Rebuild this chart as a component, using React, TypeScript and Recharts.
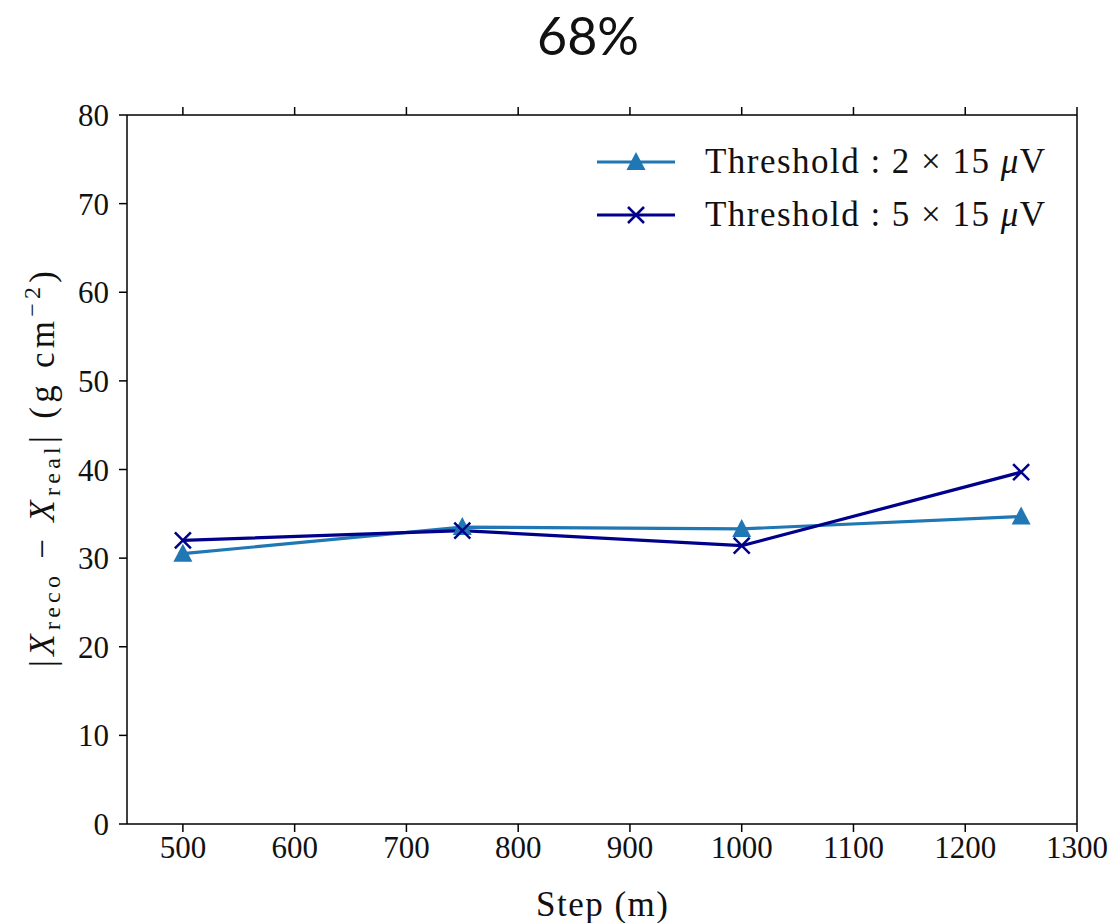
import { LineChart, Line, XAxis, YAxis } from 'recharts'

const steps = [500, 750, 1000, 1250]
const threshold2 = [30.5, 33.5, 33.3, 34.7]
const threshold5 = [32.0, 33.1, 31.4, 39.7]
const xTicks = [500, 600, 700, 800, 900, 1000, 1100, 1200, 1300]
const yTicks = [0, 10, 20, 30, 40, 50, 60, 70, 80]
const seriesNames = ['2', '5']

const data = steps.map((step, i) => ({ step, t2: threshold2[i], t5: threshold5[i] }))

const C1 = '#1f77b4'
const C2 = '#00008b'
const serif = 'Liberation Serif, DejaVu Serif, serif'

const Triangle = ({ cx, cy }: any) => {
  if (cx == null || cy == null) return null
  return <path d={`M${cx},${cy - 10} L${cx + 9.5},${cy + 8} L${cx - 9.5},${cy + 8} Z`} fill={C1} />
}

const Cross = ({ cx, cy }: any) => {
  if (cx == null || cy == null) return null
  const s = 8
  return (
    <path
      d={`M${cx - s},${cy - s} L${cx + s},${cy + s} M${cx - s},${cy + s} L${cx + s},${cy - s}`}
      stroke={C2}
      strokeWidth={2.5}
      fill="none"
    />
  )
}

const EmptyTick = () => <g />

// legend drawn on its own so it does not shrink the plot area
const LegendBox = () => (
  <svg width={480} height={110} style={{ position: 'absolute', left: 597, top: 135 }}>
    {seriesNames.map((n, i) => {
      const y = 27 + i * 53
      const color = i === 0 ? C1 : C2
      return (
        <g key={i}>
          <line x1={0} x2={78} y1={y} y2={y} stroke={color} strokeWidth={3} />
          {i === 0 ? <Triangle cx={39} cy={y} /> : <Cross cx={39} cy={y} />}
          <text x={108} y={y + 11} fontFamily={serif} fontSize={35} fill="#111" textLength={340} lengthAdjust="spacing">
            Threshold : {n} × 15 <tspan fontStyle="italic">μ</tspan>V
          </text>
        </g>
      )
    })}
  </svg>
)

const YLabel = () => (
  <text
    transform="translate(54,469) rotate(-90)"
    textAnchor="middle"
    fontFamily={serif}
    fontSize={35}
    fill="#111"
    textLength={396}
    lengthAdjust="spacing"
  >
    <tspan>|</tspan>
    <tspan fontStyle="italic">X</tspan>
    <tspan fontSize={24} dy={6}>reco</tspan>
    <tspan dy={-6}> − </tspan>
    <tspan fontStyle="italic">X</tspan>
    <tspan fontSize={24} dy={6}>real</tspan>
    <tspan dy={-6}>| (g cm</tspan>
    <tspan fontSize={24} dy={-14}>−2</tspan>
    <tspan dy={14}>)</tspan>
  </text>
)

const XLabel = () => (
  <text x={602} y={916} textAnchor="middle" fontFamily={serif} fontSize={35} fill="#111" textLength={132} lengthAdjust="spacing">
    Step (m)
  </text>
)

export default function App() {
  return (
    <div style={{ position: 'absolute', left: 0, top: 0, width: 1115, height: 923, background: '#fff' }}>
      <div
        style={{
          position: 'absolute',
          left: 0,
          width: 1176,
          top: 4,
          textAlign: 'center',
          fontFamily: 'Lato, "Noto Sans", sans-serif',
          fontSize: 52,
          color: '#111'
        }}
      >
        68%
      </div>
      <LineChart width={1115} height={923} data={data} margin={{ top: 105, right: 28, bottom: 29, left: 47 }}>
        <XAxis
          xAxisId="bottom"
          dataKey="step"
          type="number"
          domain={[450, 1300]}
          ticks={xTicks}
          height={70}
          tickSize={8}
          tickMargin={4}
          stroke="#000"
          strokeWidth={1.5}
          tick={{ fontFamily: serif, fontSize: 31, fill: '#111' }}
          label={<XLabel />}
        />
        <XAxis
          xAxisId="top"
          orientation="top"
          dataKey="step"
          type="number"
          domain={[450, 1300]}
          ticks={xTicks}
          height={10}
          tickSize={8}
          stroke="#000"
          strokeWidth={1.5}
          tick={<EmptyTick />}
        />
        <YAxis
          yAxisId="left"
          type="number"
          domain={[0, 80]}
          ticks={yTicks}
          width={80}
          tickSize={8}
          tickMargin={10}
          stroke="#000"
          strokeWidth={1.5}
          tick={{ fontFamily: serif, fontSize: 31, fill: '#111' }}
          label={<YLabel />}
        />
        <YAxis
          yAxisId="right"
          orientation="right"
          type="number"
          domain={[0, 80]}
          ticks={yTicks}
          width={10}
          tickSize={8}
          stroke="#000"
          strokeWidth={1.5}
          tick={<EmptyTick />}
        />
        <Line
          xAxisId="bottom"
          yAxisId="left"
          dataKey="t2"
          stroke={C1}
          strokeWidth={3.2}
          dot={<Triangle />}
          activeDot={false}
          isAnimationActive={false}
        />
        <Line
          xAxisId="bottom"
          yAxisId="left"
          dataKey="t5"
          stroke={C2}
          strokeWidth={3.2}
          dot={<Cross />}
          activeDot={false}
          isAnimationActive={false}
        />
      </LineChart>
      <LegendBox />
    </div>
  )
}
